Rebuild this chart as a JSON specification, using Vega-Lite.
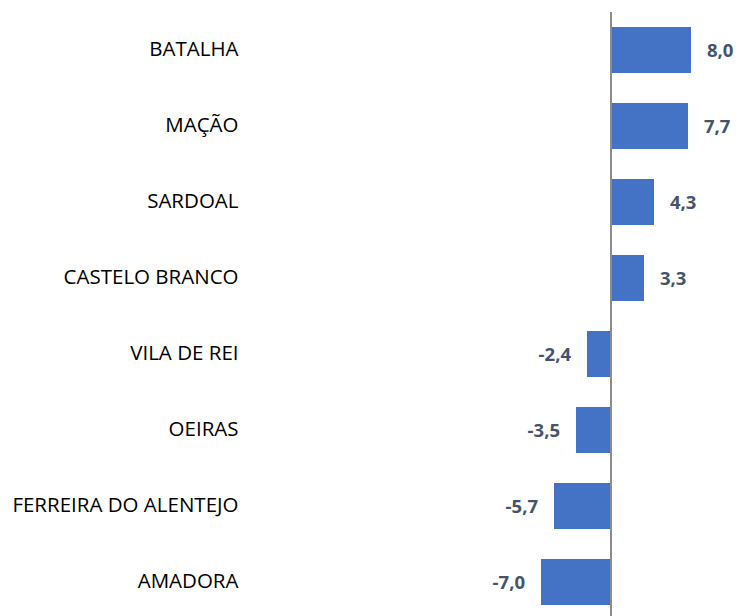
{
  "$schema": "https://vega.github.io/schema/vega-lite/v6.json",
  "width": 494,
  "height": 608,
  "autosize": "none",
  "padding": {"left": 245, "top": 12, "right": 0, "bottom": 0},
  "background": "white",
  "config": {
    "view": {"stroke": null},
    "locale": {"number": {"decimal": ",", "thousands": ".", "grouping": [3], "currency": ["", " €"], "minus": "-"}}
  },
  "data": {
    "values": [
      {"concelho": "BATALHA", "valor": 8.0},
      {"concelho": "MAÇÃO", "valor": 7.7},
      {"concelho": "SARDOAL", "valor": 4.3},
      {"concelho": "CASTELO BRANCO", "valor": 3.3},
      {"concelho": "VILA DE REI", "valor": -2.4},
      {"concelho": "OEIRAS", "valor": -3.5},
      {"concelho": "FERREIRA DO ALENTEJO", "valor": -5.7},
      {"concelho": "AMADORA", "valor": -7.0}
    ]
  },
  "encoding": {
    "y": {
      "field": "concelho",
      "type": "nominal",
      "sort": null,
      "scale": {"paddingInner": 0.395, "paddingOuter": 0.1975},
      "axis": {
        "title": null,
        "domain": false,
        "ticks": false,
        "labelPadding": 7,
        "labelFont": "Open Sans",
        "labelFontSize": 20.5,
        "labelColor": "#000000",
        "labelLimit": 400
      }
    }
  },
  "layer": [
    {
      "mark": {"type": "bar", "color": "#4472C4"},
      "encoding": {
        "x": {
          "field": "valor",
          "type": "quantitative",
          "scale": {"domain": [-36.6, 12.8], "nice": false, "zero": false},
          "axis": null
        }
      }
    },
    {
      "mark": {"type": "text", "font": "Open Sans", "fontSize": 18.5, "fontWeight": "bold", "color": "#44546A", "align": {"expr": "datum.valor >= 0 ? 'left' : 'right'"}, "dx": {"expr": "datum.valor >= 0 ? 16 : -16"}, "baseline": "middle", "dy": 1},
      "encoding": {
        "x": {"field": "valor", "type": "quantitative"},
        "text": {"field": "valor", "type": "quantitative", "format": ".1f"}
      }
    },
    {
      "data": {"values": [{"zero": 0}]},
      "mark": {"type": "rule", "color": "#8C8C8C", "strokeWidth": 2},
      "encoding": {
        "x": {"field": "zero", "type": "quantitative"},
        "y": {"value": 0},
        "y2": {"value": 616}
      }
    }
  ]
}
